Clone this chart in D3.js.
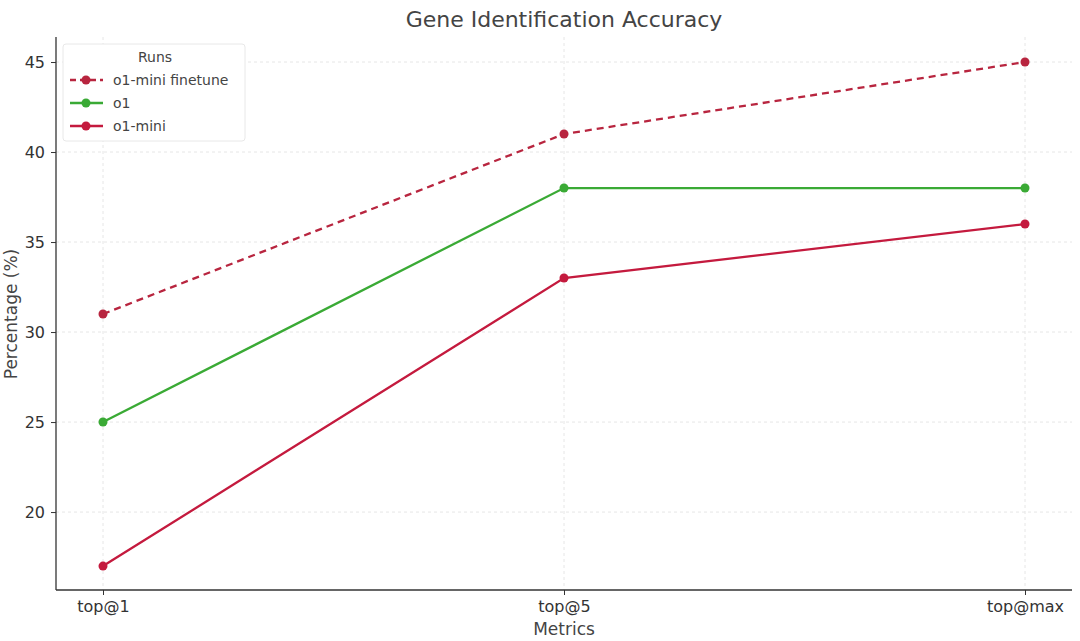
<!DOCTYPE html>
<html><head><meta charset="utf-8">
<script src="https://cdn.jsdelivr.net/npm/d3@7"></script>
<style>body{margin:0;background:#fff;font-family:"DejaVu Sans",sans-serif}</style>
</head><body><svg id="c" width="1080" height="641"></svg>
<script>
const metrics = ["top@1", "top@5", "top@max"];
const finetune = [31, 41, 45];
const o1 = [25, 38, 38];
const o1mini = [17, 33, 36];
const yTicks = [20, 25, 30, 35, 40, 45];

const series = [
  {name: "o1-mini finetune", values: finetune, color: "#b8253f", dash: "7,5"},
  {name: "o1", values: o1, color: "#3aaa35", dash: null},
  {name: "o1-mini", values: o1mini, color: "#c41a3e", dash: null}
];

const svg = d3.select("#c");
const L = 56, R = 1072, T = 37, B = 590;
const x = d3.scalePoint().domain(metrics).range([103, 1025]);
const y = d3.scaleLinear().domain([15.67, 46.39]).range([B, T]);

// grid
svg.append("g").selectAll("line").data(yTicks).join("line")
  .attr("x1", L).attr("x2", R).attr("y1", d => y(d)).attr("y2", d => y(d))
  .attr("stroke", "#e6e6e6").attr("stroke-dasharray", "3,3");
svg.append("g").selectAll("line").data(metrics).join("line")
  .attr("x1", d => x(d)).attr("x2", d => x(d)).attr("y1", T).attr("y2", B)
  .attr("stroke", "#e6e6e6").attr("stroke-dasharray", "3,3");

const yAxis = svg.append("g").attr("transform", `translate(${L},0)`)
  .call(d3.axisLeft(y).tickValues(yTicks).tickSize(5).tickPadding(6));
yAxis.select(".domain").attr("d", `M0,${T}V${B}`).attr("stroke", "#333").attr("stroke-width", 1.3);
const xAxis = svg.append("g").attr("transform", `translate(0,${B})`)
  .call(d3.axisBottom(x).tickSize(5).tickPadding(6));
xAxis.select(".domain").attr("d", `M${L},0H${R}`).attr("stroke", "#333").attr("stroke-width", 1.3);
svg.selectAll(".tick text").attr("font-size", 16).attr("fill", "#333").attr("font-family", "DejaVu Sans");
svg.selectAll(".tick line").attr("stroke", "#333");

const line = d3.line().x((d, i) => x(metrics[i])).y(d => y(d));
series.forEach(s => {
  svg.append("path").attr("d", line(s.values)).attr("fill", "none")
    .attr("stroke", s.color).attr("stroke-width", 2.3).attr("stroke-dasharray", s.dash);
  svg.append("g").selectAll("circle").data(s.values).join("circle")
    .attr("cx", (d, i) => x(metrics[i])).attr("cy", d => y(d)).attr("r", 4.5).attr("fill", s.color);
});

svg.append("text").attr("x", 564).attr("y", 27).attr("text-anchor", "middle")
  .attr("font-size", 22).attr("fill", "#444").text("Gene Identification Accuracy");
svg.append("text").attr("x", 564).attr("y", 635).attr("text-anchor", "middle")
  .attr("font-size", 17).attr("fill", "#444").text("Metrics");
svg.append("text").attr("transform", "translate(17,314) rotate(-90)").attr("text-anchor", "middle")
  .attr("font-size", 17).attr("fill", "#444").text("Percentage (%)");

// legend
const lg = svg.append("g").attr("transform", "translate(63,44)");
lg.append("rect").attr("width", 182).attr("height", 97).attr("rx", 3)
  .attr("fill", "#fff").attr("stroke", "#e8e8e8");
lg.append("text").attr("x", 92).attr("y", 18).attr("text-anchor", "middle")
  .attr("font-size", 14).attr("fill", "#444").text("Runs");
series.forEach((s, i) => {
  const yy = 36 + i * 23;
  lg.append("line").attr("x1", 7).attr("x2", 40).attr("y1", yy).attr("y2", yy)
    .attr("stroke", s.color).attr("stroke-width", 2.3).attr("stroke-dasharray", s.dash ? "6,4" : null);
  lg.append("circle").attr("cx", 23).attr("cy", yy).attr("r", 4.5).attr("fill", s.color);
  lg.append("text").attr("x", 50).attr("y", yy + 5).attr("font-size", 14).attr("fill", "#444").text(s.name);
});
</script></body></html>
